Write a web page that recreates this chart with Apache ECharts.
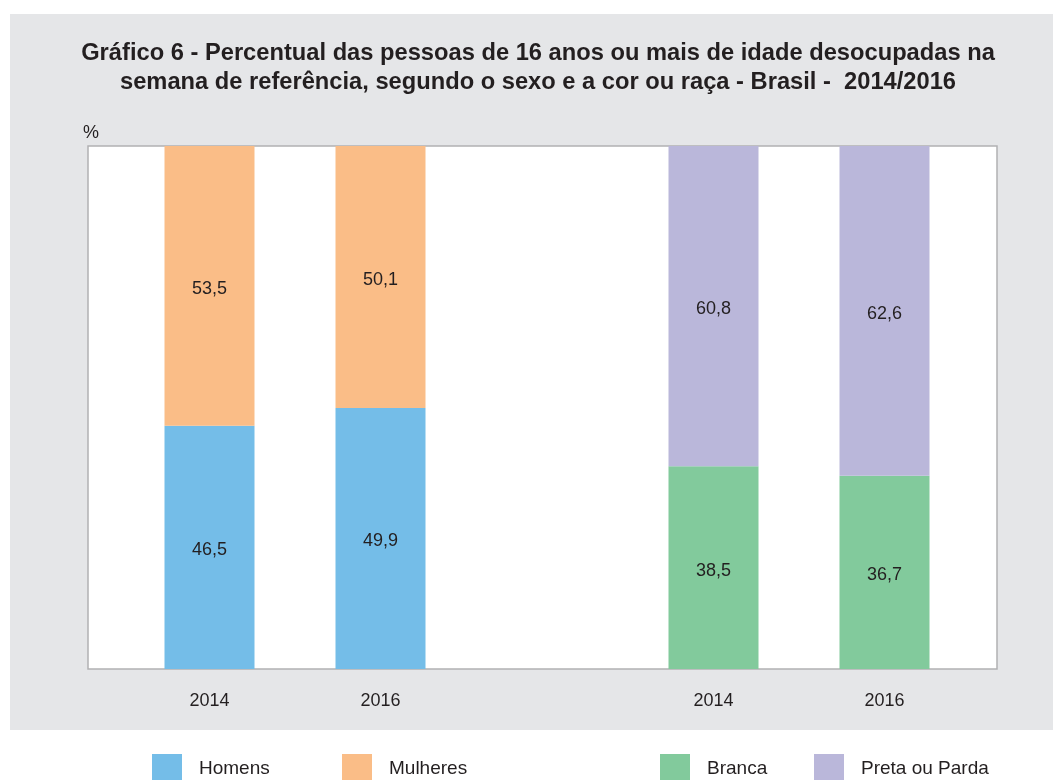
<!DOCTYPE html>
<html>
<head>
<meta charset="utf-8">
<script src="https://cdn.jsdelivr.net/npm/echarts@6/dist/echarts.min.js"></script>
<style>
  html, body { margin: 0; padding: 0; background: #fff; }
  #chart { width: 1053px; height: 780px; }
</style>
</head>
<body>
<div id="chart"></div>
<script>
// dados
var anos = ['2014', '2016'];
var homens = [46.5, 49.9];
var mulheres = [53.5, 50.1];
var branca = [38.5, 36.7];
var pretaParda = [60.8, 62.6];

var fonte = 'Liberation Sans, Arial, Helvetica, sans-serif';
var corTexto = '#231f20';

function rotulo(p) {
    return String(p.value).replace('.', ',');
}

function legenda(nome, x) {
    return {
        data: [nome],
        left: x,
        top: 754,
        padding: 0,
        icon: 'rect',
        itemWidth: 30,
        itemHeight: 30,
        selectedMode: false,
        textStyle: { fontFamily: fonte, fontSize: 19, color: corTexto, padding: [0, 0, 0, 12] }
    };
}

function serie(nome, dados, grade, pilha, cor) {
    return {
        name: nome,
        type: 'bar',
        xAxisIndex: grade,
        yAxisIndex: grade,
        stack: pilha,
        barWidth: 90,
        itemStyle: { color: cor },
        label: {
            show: true,
            position: 'inside',
            offset: [0, 3],
            fontFamily: fonte,
            fontSize: 18,
            color: corTexto,
            formatter: rotulo
        },
        data: dados
    };
}

var chart = echarts.init(document.getElementById('chart'));

var option = {
    animation: false,
    textStyle: { fontFamily: fonte },
    graphic: [
        {
            type: 'rect',
            z: -10,
            silent: true,
            shape: { x: 10, y: 14, width: 1043, height: 716 },
            style: { fill: '#e5e6e8' }
        }
    ],
    title: {
        text: 'Gráfico 6 - Percentual das pessoas de 16 anos ou mais de idade desocupadas na\nsemana de referência, segundo o sexo e a cor ou raça - Brasil -  2014/2016',
        left: 533,
        top: 34,
        textAlign: 'center',
        textStyle: {
            fontFamily: fonte,
            fontSize: 23.7,
            fontWeight: 'bold',
            lineHeight: 29,
            color: corTexto
        }
    },
    legend: [
        legenda('Homens', 152),
        legenda('Mulheres', 342),
        legenda('Branca', 660),
        legenda('Preta ou Parda', 814)
    ],
    grid: [
        // moldura
        { left: 88, top: 146, width: 909, height: 523, show: true, backgroundColor: '#fff', borderColor: '#b1b1b3', borderWidth: 1.5 },
        // sexo
        { left: 124, top: 146, width: 342, height: 523 },
        // cor ou raça
        { left: 628, top: 146, width: 342, height: 523 }
    ],
    xAxis: [
        { gridIndex: 0, type: 'category', data: [''], show: false },
        {
            gridIndex: 1, type: 'category', data: anos,
            axisLine: { show: false }, axisTick: { show: false },
            axisLabel: { fontFamily: fonte, fontSize: 18, color: corTexto, margin: 23 }
        },
        {
            gridIndex: 2, type: 'category', data: anos,
            axisLine: { show: false }, axisTick: { show: false },
            axisLabel: { fontFamily: fonte, fontSize: 18, color: corTexto, margin: 23 }
        }
    ],
    yAxis: [
        {
            gridIndex: 0, type: 'value', min: 0, max: 100,
            name: '%',
            nameLocation: 'end',
            nameGap: 4,
            nameTextStyle: { fontFamily: fonte, fontSize: 18, color: corTexto, align: 'left', padding: [0, 0, 0, -5] },
            axisLine: { show: false }, axisTick: { show: false },
            axisLabel: { show: false }, splitLine: { show: false }
        },
        { gridIndex: 1, type: 'value', min: 0, max: 'dataMax', show: false, splitLine: { show: false } },
        { gridIndex: 2, type: 'value', min: 0, max: 'dataMax', show: false, splitLine: { show: false } }
    ],
    series: [
        serie('Homens', homens, 1, 'sexo', '#74bde8'),
        serie('Mulheres', mulheres, 1, 'sexo', '#fabd87'),
        serie('Branca', branca, 2, 'cor', '#82ca9c'),
        serie('Preta ou Parda', pretaParda, 2, 'cor', '#bab7da')
    ]
};

chart.setOption(option);
</script>
</body>
</html>
